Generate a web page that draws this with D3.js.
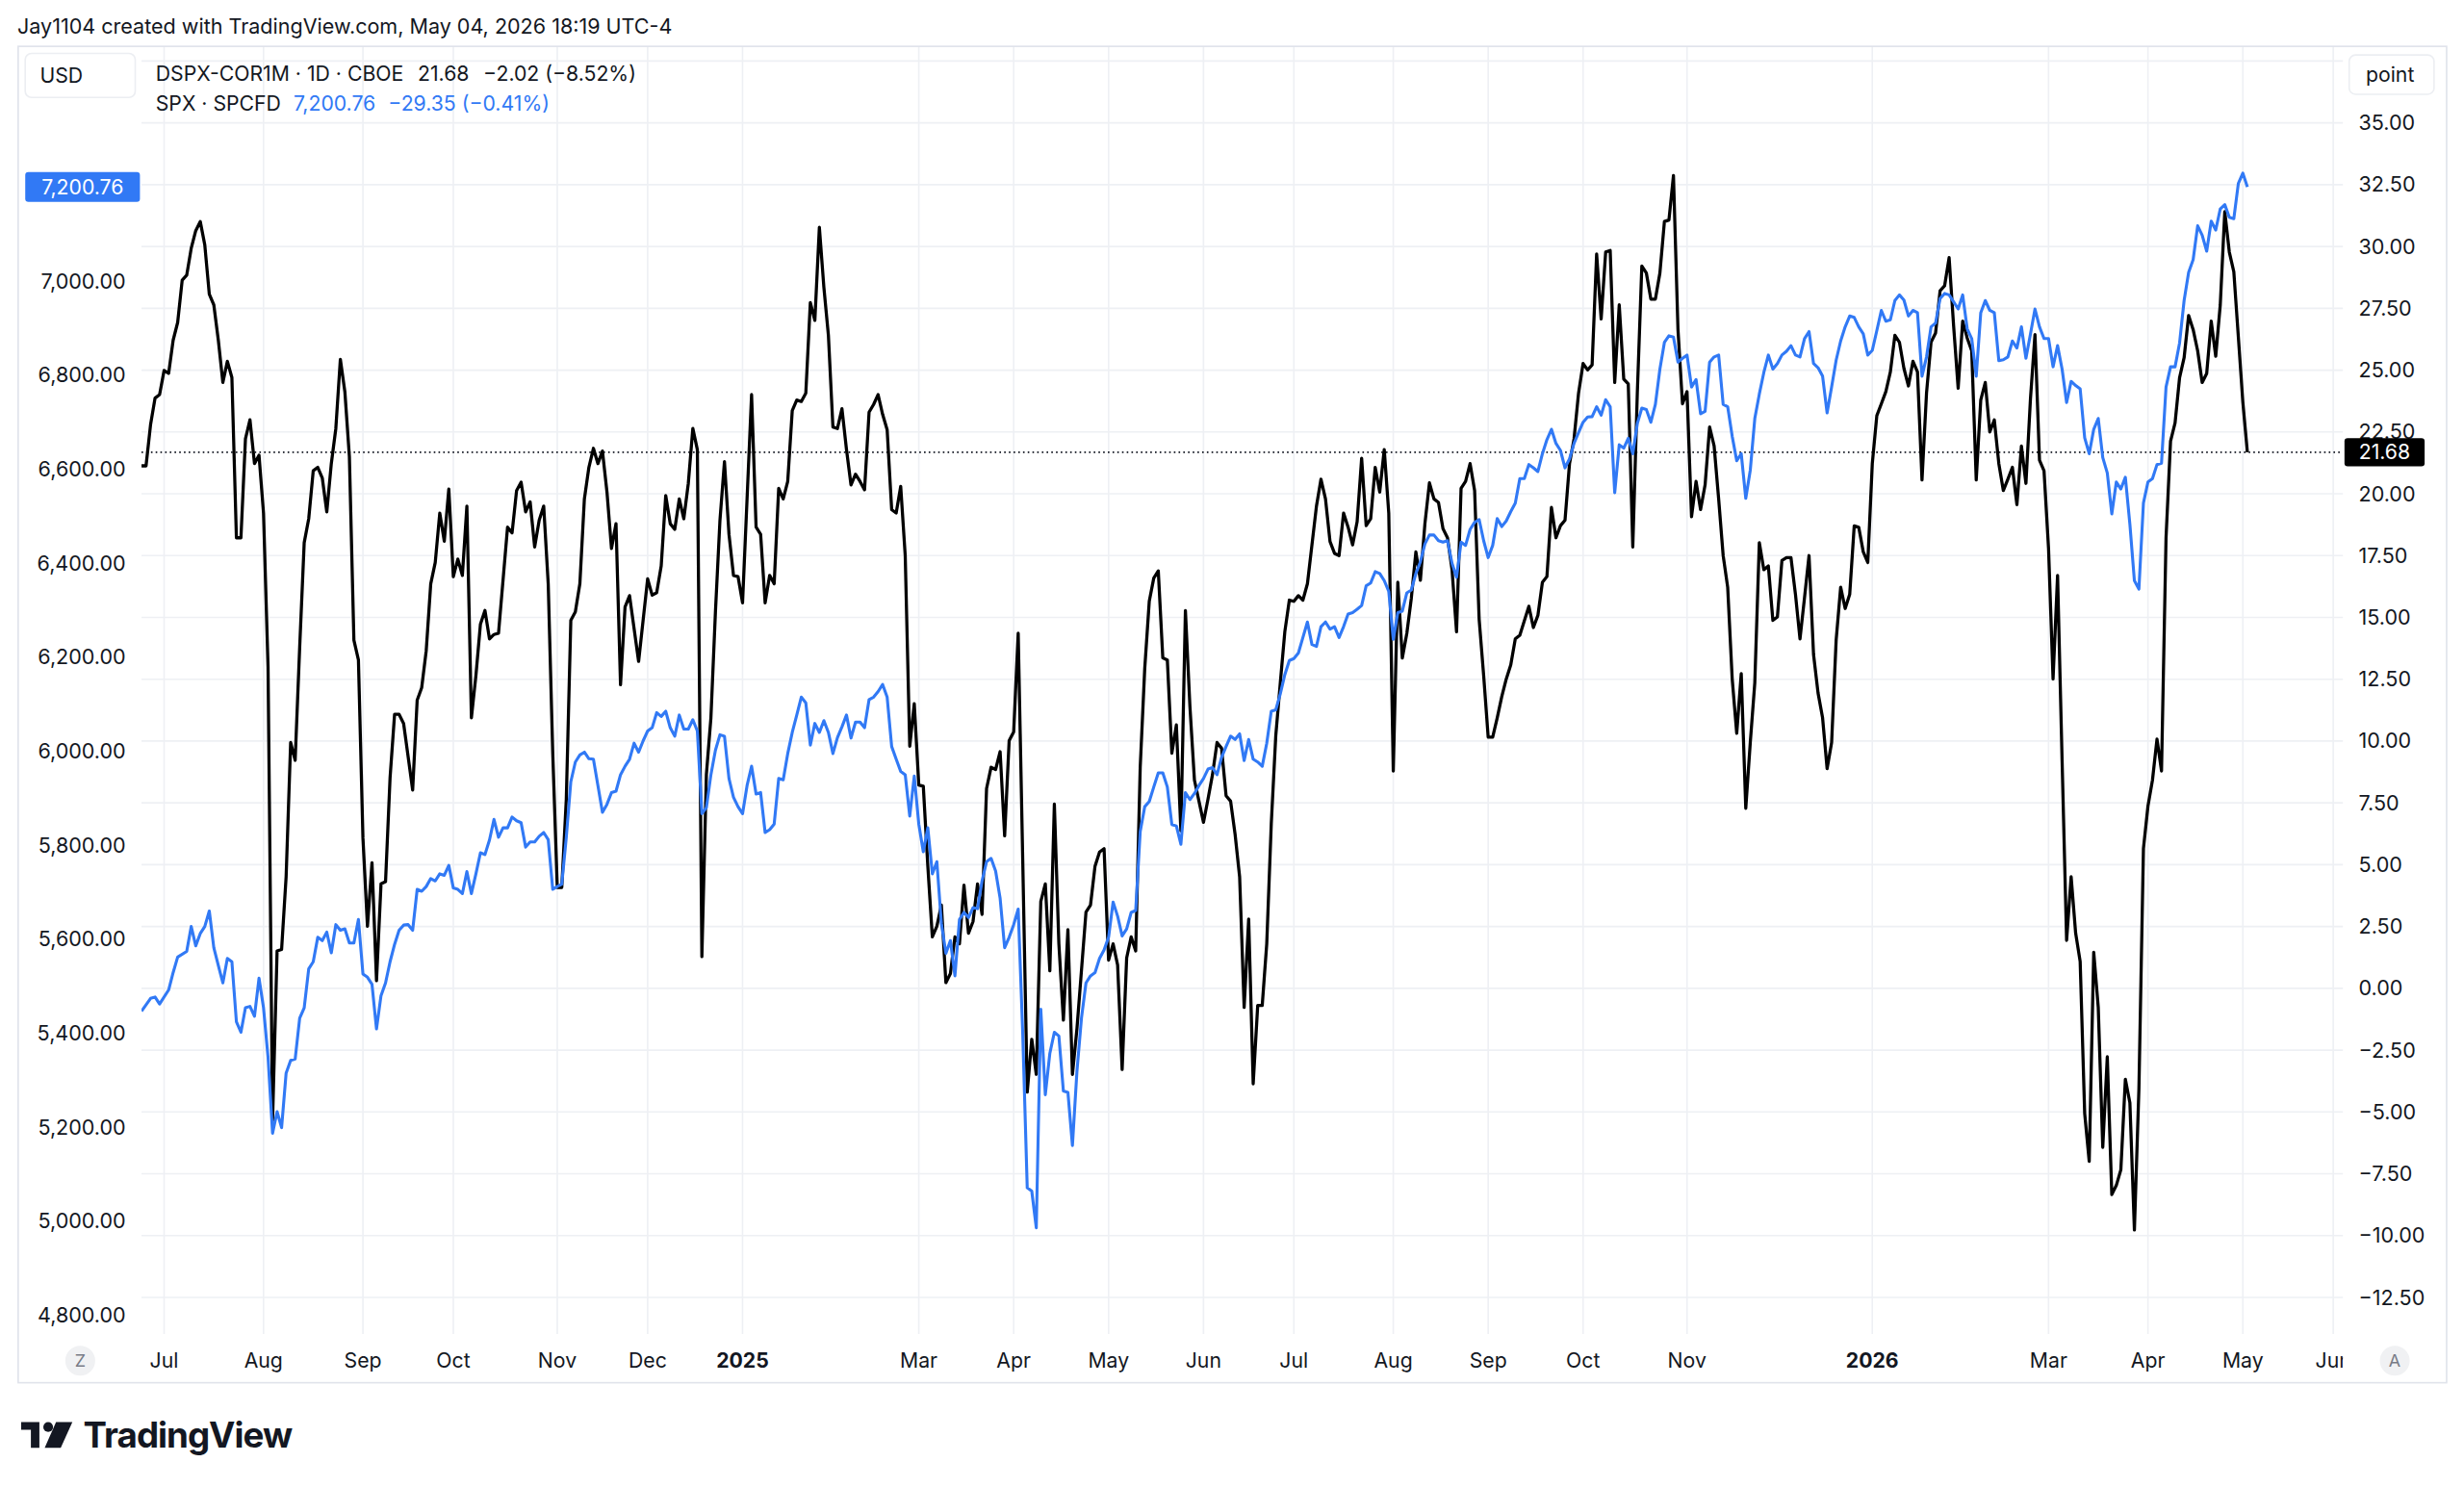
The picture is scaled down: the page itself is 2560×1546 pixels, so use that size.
<!DOCTYPE html>
<meta charset="utf-8">
<script src="https://d3js.org/d3.v7.min.js"></script>
<style>
  body { margin: 0; background: #fff; overflow: hidden; }
  text { font-family: Inter, "Noto Sans", Roboto, sans-serif; fill: #131722; }
</style>
<svg id="chart" width="2560" height="1546" viewBox="0 0 1568 947"></svg>
<script>
// ---- data ----
// x = trading session number counted from the first bar (Mon 24 Jun 2024)
const firstSession = "2024-06-24";
const lastSession = "2026-06-30";
const holidays = ["2024-07-04","2024-09-02","2024-11-28","2024-12-25","2025-01-01","2025-01-09",
  "2025-01-20","2025-02-17","2025-04-18","2025-05-26","2025-06-19","2025-07-04","2025-09-01",
  "2025-11-27","2025-12-25","2026-01-01","2026-01-19","2026-02-16","2026-04-03","2026-05-25","2026-06-19"];

// month labels shown on the time axis
const tickMonths = ["2024-07","2024-08","2024-09","2024-10","2024-11","2024-12","2025-01","2025-03",
  "2025-04","2025-05","2025-06","2025-07","2025-08","2025-09","2025-10","2025-11","2026-01","2026-03",
  "2026-04","2026-05","2026-06"];

const leftTicks = [4800, 5000, 5200, 5400, 5600, 5800, 6000, 6200, 6400, 6600, 6800, 7000];
const rightTicks = [35, 32.5, 30, 27.5, 25, 22.5, 20, 17.5, 15, 12.5, 10, 7.5, 5, 2.5, 0, -2.5, -5, -7.5, -10, -12.5];
const gridTicks = [37.5].concat(rightTicks);

// DSPX-COR1M (right scale, points)
const dspx = [
  [0,21.13],[1,21.13],[2,22.79],[3,23.87],[4,24.01],[5,24.99],[6,24.87],[7,26.21],[8,26.93],[9,28.64],
  [10,28.84],[11,29.93],[12,30.64],[13,31.01],[14,30.07],[15,28.07],[16,27.64],[17,26.21],[18,24.5],[19,25.36],
  [20,24.7],[21,18.22],[22,18.22],[23,22.22],[24,22.99],[25,21.22],[26,21.56],[27,19.22],[28,13.0],[29,-5.35],
  [30,1.51],[31,1.57],[32,4.51],[33,9.94],[34,9.22],[35,13.79],[36,18.02],[37,18.99],[38,20.93],[39,21.07],
  [40,20.64],[41,19.27],[42,21.22],[43,22.64],[44,25.44],[45,24.13],[46,21.5],[47,14.08],[48,13.28],[49,6.08],
  [50,2.51],[51,5.08],[52,0.31],[53,4.23],[54,4.31],[55,8.51],[56,11.08],[57,11.08],[58,10.71],[60,8.02],
  [61,11.65],[62,12.16],[63,13.65],[64,16.36],[65,17.22],[66,19.22],[67,18.08],[68,20.19],[69,16.65],[70,17.36],
  [71,16.7],[72,19.5],[73,10.94],[74,12.65],[75,14.73],[76,15.28],[77,14.13],[78,14.31],[79,14.36],[81,18.65],
  [82,18.42],[83,20.13],[84,20.47],[85,19.27],[86,19.67],[87,17.85],[88,18.93],[89,19.5],[90,16.36],[91,9.51],
  [92,4.08],[93,4.08],[94,7.65],[95,14.88],[96,15.22],[97,16.36],[98,19.79],[99,21.07],[100,21.84],[101,21.22],
  [102,21.73],[103,20.07],[104,17.79],[105,18.79],[106,12.28],[107,15.42],[108,15.88],[110,13.22],[112,16.56],[113,15.9],
  [114,16.0],[115,17.08],[116,19.93],[117,18.79],[118,18.56],[119,19.79],[120,18.99],[121,20.42],[122,22.64],[123,21.79],
  [124,1.28],[125,8.65],[126,10.94],[127,15.22],[128,18.93],[129,21.3],[130,18.36],[131,16.7],[132,16.65],[133,15.59],
  [134,19.79],[135,24.01],[136,18.65],[137,18.36],[138,15.59],[139,16.7],[140,16.36],[141,20.22],[142,19.79],[143,20.5],
  [144,23.36],[145,23.79],[146,23.73],[147,24.07],[148,27.73],[149,27.01],[150,30.78],[151,28.35],[152,26.41],[153,22.7],
  [154,22.64],[155,23.44],[156,21.79],[157,20.36],[158,20.79],[159,20.5],[160,20.16],[161,23.3],[162,23.61],[163,24.01],
  [164,23.21],[165,22.59],[166,19.36],[167,19.22],[168,20.3],[169,17.5],[170,9.79],[171,11.51],[172,8.22],[173,8.17],
  [174,4.94],[175,2.08],[176,2.51],[177,3.37],[178,0.23],[179,0.6],[180,2.08],[181,1.8],[182,4.17],[183,2.23],
  [184,2.7],[185,4.22],[186,2.99],[187,8.08],[188,8.94],[189,8.85],[190,9.57],[191,6.17],[192,10.02],[193,10.37],
  [194,14.36],[195,5.22],[196,-4.2],[197,-2.06],[198,-3.48],[199,3.51],[200,4.22],[201,0.71],[202,7.45],[203,1.8],
  [204,-1.29],[205,2.37],[206,-3.48],[207,-1.63],[209,3.08],[210,3.37],[211,4.94],[212,5.51],[213,5.65],[214,1.14],
  [215,1.8],[216,0.94],[217,-3.28],[218,1.23],[219,2.08],[220,1.51],[221,8.94],[222,12.93],[223,15.65],[224,16.59],
  [225,16.88],[226,13.36],[227,13.28],[228,9.51],[229,10.65],[230,6.37],[231,15.28],[232,11.4],[233,8.42],[234,7.57],
  [235,6.71],[236,7.65],[237,8.65],[238,9.94],[239,9.71],[240,7.79],[241,7.57],[242,6.22],[243,4.51],[244,-0.77],
  [245,2.8],[246,-3.86],[247,-0.69],[248,-0.69],[249,1.8],[250,6.65],[251,10.22],[252,12.36],[253,14.42],[254,15.7],
  [255,15.65],[256,15.88],[257,15.7],[258,16.36],[260,19.5],[261,20.59],[262,19.79],[263,18.07],[264,17.59],[265,17.5],
  [266,19.22],[267,18.65],[268,17.93],[269,18.87],[270,21.44],[271,18.71],[272,18.99],[273,21.07],[274,20.07],[275,21.79],
  [276,19.22],[277,8.79],[278,16.42],[279,13.36],[280,14.36],[281,15.79],[282,17.65],[283,16.5],[284,18.79],[285,20.44],
  [286,19.79],[287,19.65],[288,18.59],[289,18.22],[290,16.93],[291,14.42],[292,20.22],[293,20.5],[294,21.22],[295,20.13],
  [296,14.93],[297,12.65],[298,10.16],[299,10.16],[300,10.94],[301,11.79],[302,12.51],[303,13.08],[304,14.13],[305,14.28],
  [307,15.45],[308,14.59],[309,15.08],[310,16.42],[311,16.65],[312,19.45],[313,18.22],[314,18.71],[315,18.93],[316,21.22],
  [317,22.22],[318,24.07],[319,25.27],[320,25.01],[321,25.21],[322,29.7],[323,27.07],[324,29.78],[325,29.84],[326,24.5],
  [327,27.64],[328,24.64],[329,24.44],[330,17.85],[331,24.07],[332,29.21],[333,28.93],[334,27.87],[335,27.87],[336,28.93],
  [337,31.01],[338,31.07],[339,32.87],[340,26.64],[341,23.64],[342,24.13],[343,19.07],[344,20.5],[345,19.36],[346,20.36],
  [347,22.7],[348,21.93],[349,19.79],[350,17.5],[351,16.22],[352,12.51],[353,10.31],[354,12.73],[355,7.28],[356,9.94],
  [357,12.36],[358,18.02],[359,16.93],[360,17.08],[361,14.88],[362,15.02],[363,17.3],[364,17.42],[365,17.42],[366,15.93],
  [367,14.13],[368,15.79],[369,17.5],[370,13.5],[371,11.94],[372,10.94],[373,8.88],[374,9.94],[375,14.08],[376,16.22],
  [377,15.36],[378,15.93],[379,18.7],[380,18.65],[381,17.65],[382,17.22],[383,21.22],[384,23.16],[385,23.64],[386,24.13],
  [387,24.93],[388,26.41],[389,26.13],[390,25.07],[391,24.36],[392,25.36],[393,24.93],[394,20.56],[395,24.07],[396,26.13],
  [397,26.5],[398,28.21],[399,28.41],[400,29.55],[401,26.78],[402,24.27],[403,26.98],[404,26.3],[405,25.78],[406,20.56],
  [407,23.79],[408,24.5],[409,22.5],[410,22.99],[411,21.22],[412,20.13],[413,20.59],[414,21.07],[415,19.56],[416,21.93],
  [417,20.42],[418,23.84],[419,26.44],[420,21.36],[421,20.93],[422,17.79],[423,12.51],[424,16.7],[425,9.22],[426,1.94],
  [427,4.51],[428,2.23],[429,1.08],[430,-5.06],[431,-7.0],[432,1.46],[433,-0.77],[434,-6.43],[435,-2.77],[436,-8.34],
  [437,-7.97],[438,-7.34],[439,-3.68],[440,-4.63],[441,-9.77],[442,-4.06],[443,5.65],[444,7.37],[445,8.42],[446,10.08],
  [447,8.79],[448,18.22],[449,22.13],[450,22.87],[451,24.7],[452,25.5],[453,27.21],[454,26.64],[455,25.78],[456,24.5],
  [457,24.87],[458,26.98],[459,25.56],[460,27.64],[461,31.41],[462,29.78],[463,28.98],[464,26.35],[465,23.70],[466,21.68]
];

// SPX (left scale, USD)
const spx = [
  [0,5447],[2,5474],[3,5477],[4,5462],[6,5492],[7,5529],[8,5562],[10,5574],[11,5627],[12,5586],
  [13,5612],[14,5627],[15,5660],[16,5582],[17,5544],[18,5507],[19,5559],[20,5552],[21,5424],[22,5402],
  [23,5454],[24,5457],[25,5436],[26,5517],[27,5454],[28,5349],[29,5187],[30,5233],[31,5199],[32,5315],
  [33,5342],[34,5345],[35,5432],[36,5454],[37,5537],[38,5552],[39,5604],[40,5597],[41,5615],[42,5571],
  [43,5631],[44,5619],[45,5622],[46,5592],[47,5592],[48,5642],[49,5526],[50,5519],[51,5504],[52,5409],
  [53,5480],[54,5507],[55,5552],[56,5589],[57,5619],[58,5630],[59,5631],[60,5619],[61,5706],[62,5702],
  [63,5712],[64,5729],[65,5724],[66,5739],[67,5736],[68,5757],[69,5709],[70,5706],[71,5697],[72,5744],
  [73,5697],[74,5739],[75,5784],[76,5780],[77,5811],[78,5855],[79,5817],[80,5837],[81,5837],[82,5860],
  [83,5852],[84,5848],[85,5796],[86,5807],[87,5807],[88,5819],[89,5827],[90,5812],[91,5706],[92,5712],
  [93,5717],[94,5817],[95,5935],[96,5977],[97,5992],[98,5998],[99,5984],[100,5983],[101,5927],[102,5870],
  [103,5887],[104,5912],[105,5915],[106,5950],[107,5968],[108,5983],[109,6017],[110,5998],[111,6022],[112,6043],
  [113,6050],[114,6082],[115,6074],[116,6085],[117,6050],[118,6032],[119,6077],[120,6047],[121,6047],[122,6067],
  [123,6043],[124,5867],[125,5880],[126,5950],[127,6002],[128,6035],[129,6032],[130,5942],[131,5902],[132,5882],
  [133,5867],[134,5927],[135,5968],[136,5909],[137,5912],[138,5827],[139,5833],[140,5845],[141,5942],[142,5939],
  [143,5995],[144,6040],[145,6077],[146,6115],[147,6103],[148,6013],[149,6059],[150,6040],[151,6065],[152,6040],
  [153,5995],[154,6029],[155,6052],[156,6077],[157,6028],[158,6062],[159,6062],[160,6050],[161,6110],[162,6115],
  [163,6127],[164,6142],[165,6115],[166,6010],[167,5983],[168,5957],[169,5950],[170,5862],[171,5947],[172,5845],
  [173,5786],[174,5837],[175,5739],[176,5765],[177,5634],[178,5570],[179,5597],[180,5522],[181,5642],[182,5657],
  [183,5646],[184,5667],[185,5665],[186,5724],[187,5765],[188,5772],[189,5745],[190,5687],[191,5582],[192,5604],
  [193,5631],[194,5664],[195,5400],[196,5071],[197,5064],[198,4986],[199,5451],[200,5269],[201,5357],[202,5402],
  [203,5394],[204,5277],[205,5274],[206,5161],[207,5319],[208,5432],[209,5507],[210,5522],[211,5529],[212,5559],
  [213,5577],[214,5604],[215,5679],[216,5649],[217,5607],[218,5622],[219,5657],[220,5661],[221,5829],[222,5882],
  [223,5893],[224,5924],[225,5954],[226,5954],[227,5924],[228,5844],[229,5841],[230,5802],[231,5912],[232,5897],
  [233,5910],[234,5927],[235,5942],[236,5962],[237,5965],[238,5950],[239,5987],[240,6010],[241,6032],[242,6025],
  [243,6037],[244,5980],[245,6025],[246,5983],[247,5977],[248,5968],[249,6017],[250,6085],[251,6088],[252,6122],
  [253,6163],[254,6193],[255,6197],[256,6209],[257,6242],[258,6275],[259,6227],[260,6223],[261,6265],[262,6275],
  [263,6260],[264,6265],[265,6242],[266,6265],[267,6292],[268,6295],[269,6302],[270,6310],[271,6352],[272,6358],
  [273,6382],[274,6378],[275,6363],[276,6340],[277,6238],[278,6295],[279,6298],[280,6337],[281,6343],[282,6378],
  [283,6403],[284,6441],[285,6460],[286,6460],[287,6448],[288,6445],[289,6448],[290,6400],[291,6370],[292,6445],
  [293,6438],[294,6472],[295,6487],[296,6493],[297,6448],[298,6412],[299,6438],[300,6495],[301,6478],[302,6490],
  [303,6510],[304,6528],[305,6580],[306,6580],[307,6610],[308,6603],[309,6595],[310,6633],[311,6663],[312,6685],
  [313,6655],[314,6640],[315,6603],[316,6622],[317,6655],[318,6678],[319,6700],[320,6711],[321,6712],[322,6733],
  [323,6715],[324,6748],[325,6733],[326,6550],[327,6652],[328,6645],[329,6666],[330,6633],[331,6697],[332,6730],
  [333,6727],[334,6700],[335,6738],[336,6813],[337,6870],[338,6884],[339,6881],[340,6828],[341,6836],[342,6843],
  [343,6775],[344,6791],[345,6718],[346,6723],[347,6828],[348,6839],[349,6843],[350,6738],[351,6733],[352,6670],
  [353,6618],[354,6633],[355,6538],[356,6598],[357,6708],[358,6760],[359,6806],[360,6843],[361,6813],[362,6825],
  [363,6843],[364,6851],[365,6863],[366,6843],[367,6839],[368,6878],[369,6893],[370,6825],[371,6816],[372,6798],
  [373,6720],[374,6775],[375,6832],[376,6873],[377,6903],[378,6926],[379,6923],[380,6903],[381,6888],[382,6843],
  [383,6853],[384,6895],[385,6938],[386,6915],[387,6918],[388,6959],[389,6971],[390,6960],[391,6926],[392,6938],
  [393,6933],[394,6798],[395,6839],[396,6903],[397,6911],[398,6963],[399,6974],[400,6971],[401,6956],[402,6941],
  [403,6971],[404,6899],[405,6878],[406,6798],[407,6933],[408,6959],[409,6938],[410,6933],[411,6831],[412,6833],
  [413,6839],[414,6873],[415,6858],[416,6903],[417,6836],[418,6888],[419,6941],[420,6903],[421,6878],[422,6878],
  [423,6818],[424,6863],[425,6813],[426,6742],[427,6787],[428,6778],[429,6771],[430,6667],[431,6633],[432,6685],
  [433,6708],[434,6625],[435,6592],[436,6505],[437,6573],[438,6558],[439,6583],[440,6483],[441,6363],[442,6345],
  [443,6528],[444,6573],[445,6580],[446,6610],[447,6613],[448,6775],[449,6818],[450,6818],[451,6869],[452,6959],
  [453,7019],[454,7046],[455,7118],[456,7098],[457,7064],[458,7128],[459,7109],[460,7154],[461,7163],[462,7136],
  [463,7133],[464,7208],[465,7230.11],[466,7200.76]
];

// ---- layout (in a 1568 x 947 view box, scaled to the window) ----
const svg = d3.select("#chart");
const pane = { left: 90, right: 1491, top: 30, bottom: 849 };
const blue = "#3179f5";
const grid = "#eef0f4";
const border = "#e0e3eb";

// trading-session calendar
const fmtDay = d3.timeFormat("%Y-%m-%d");
const fmtMonth = d3.timeFormat("%Y-%m");
const parseDay = d3.timeParse("%Y-%m-%d");
const holidaySet = new Set(holidays);
const sessions = d3.timeDay.range(parseDay(firstSession), d3.timeDay.offset(parseDay(lastSession), 1))
  .filter(d => d.getDay() % 6 !== 0 && !holidaySet.has(fmtDay(d)));

const monthTicks = [];
sessions.forEach((d, i) => {
  const key = fmtMonth(d);
  if (i > 0 && key !== fmtMonth(sessions[i - 1]) && tickMonths.includes(key)) monthTicks.push({ i, d });
});

// scales
const x = d3.scaleLinear().domain([0, 466]).range([90, 1430.2]);
const yR = d3.scaleLinear().domain([-12.5, 35]).range([825.7, 78.2]);
const yL = d3.scaleLinear().domain([4800, 7000]).range([837, 179]);

svg.append("defs").append("clipPath").attr("id", "paneClip")
  .append("rect").attr("x", pane.left).attr("y", pane.top)
  .attr("width", pane.right - pane.left).attr("height", pane.bottom - pane.top);
svg.select("defs").append("clipPath").attr("id", "timeClip")
  .append("rect").attr("x", 11).attr("y", pane.bottom).attr("width", pane.right - 11).attr("height", 31);

// header
svg.append("text").attr("x", 11).attr("y", 21.5).attr("font-size", 13.2)
  .text("Jay1104 created with TradingView.com, May 04, 2026 18:19 UTC-4");

// frame
svg.append("rect").attr("x", 11.5).attr("y", 29.5).attr("width", 1545.5).attr("height", 850.5)
  .attr("fill", "none").attr("stroke", border);

// grid
svg.append("g").selectAll("line").data(gridTicks).join("line")
  .attr("x1", pane.left).attr("x2", pane.right)
  .attr("y1", d => yR(d)).attr("y2", d => yR(d))
  .attr("stroke", grid);
svg.append("g").selectAll("line").data(monthTicks).join("line")
  .attr("x1", d => x(d.i)).attr("x2", d => x(d.i))
  .attr("y1", pane.top).attr("y2", pane.bottom)
  .attr("stroke", grid);

// left scale (SPX)
const fmtLeft = d3.format(",.2f");
svg.append("g").selectAll("text").data(leftTicks).join("text")
  .attr("x", 80).attr("y", d => yL(d)).attr("dy", "0.35em")
  .attr("text-anchor", "end").attr("font-size", 13.2).text(d => fmtLeft(d));

// right scale (points)
const fmtRight = d3.format(".2f");
svg.append("g").selectAll("text").data(rightTicks).join("text")
  .attr("x", 1501).attr("y", d => yR(d)).attr("dy", "0.35em")
  .attr("font-size", 13.2).text(d => fmtRight(d));

// time scale
svg.append("g").attr("clip-path", "url(#timeClip)")
  .selectAll("text").data(monthTicks).join("text")
  .attr("x", d => x(d.i)).attr("y", 866).attr("dy", "0.35em")
  .attr("text-anchor", "middle").attr("font-size", 13)
  .attr("font-weight", d => d.d.getMonth() === 0 ? 700 : 400)
  .text(d => d.d.getMonth() === 0 ? d3.timeFormat("%Y")(d.d) : d3.timeFormat("%b")(d.d));

[[51, "Z"], [1524, "A"]].forEach(([cx, t]) => {
  svg.append("circle").attr("cx", cx).attr("cy", 866).attr("r", 9.5).attr("fill", "#f0f1f3");
  svg.append("text").attr("x", cx).attr("y", 866).attr("dy", "0.35em").attr("text-anchor", "middle")
    .attr("font-size", 11).style("fill", "#787b86").text(t);
});

// last-value dotted line
const lastCorr = dspx[dspx.length - 1][1];
svg.append("line").attr("x1", pane.left).attr("x2", pane.right)
  .attr("y1", yR(lastCorr)).attr("y2", yR(lastCorr))
  .attr("stroke", "#131722").attr("stroke-width", 1).attr("stroke-dasharray", "1,2");

// series
const plot = svg.append("g").attr("clip-path", "url(#paneClip)");
plot.append("path").datum(dspx)
  .attr("d", d3.line().x(d => x(d[0])).y(d => yR(d[1])))
  .attr("fill", "none").attr("stroke", "#000").attr("stroke-width", 2).attr("stroke-linejoin", "round");
plot.append("path").datum(spx)
  .attr("d", d3.line().x(d => x(d[0])).y(d => yL(d[1])))
  .attr("fill", "none").attr("stroke", blue).attr("stroke-width", 1.9).attr("stroke-linejoin", "round");

// scale badges
const lastSpx = spx[spx.length - 1][1];
svg.append("rect").attr("x", 16).attr("y", yL(lastSpx) - 9.5).attr("width", 73).attr("height", 19)
  .attr("rx", 2).attr("fill", blue);
svg.append("text").attr("x", 52.5).attr("y", yL(lastSpx)).attr("dy", "0.35em").attr("text-anchor", "middle")
  .attr("font-size", 13).style("fill", "#fff").text(fmtLeft(lastSpx));

svg.append("rect").attr("x", 1492).attr("y", yR(lastCorr) - 9).attr("width", 51).attr("height", 18)
  .attr("rx", 2).attr("fill", "#000");
svg.append("text").attr("x", 1517.5).attr("y", yR(lastCorr)).attr("dy", "0.35em").attr("text-anchor", "middle")
  .attr("font-size", 13).style("fill", "#fff").text(fmtRight(lastCorr));

// unit boxes
svg.append("rect").attr("x", 16).attr("y", 34).attr("width", 70).attr("height", 28).attr("rx", 4)
  .attr("fill", "#fff").attr("stroke", "#eceef2");
svg.append("text").attr("x", 39).attr("y", 48).attr("dy", "0.35em").attr("text-anchor", "middle")
  .attr("font-size", 13).text("USD");
svg.append("rect").attr("x", 1495).attr("y", 35).attr("width", 54).attr("height", 25).attr("rx", 4)
  .attr("fill", "#fff").attr("stroke", "#eceef2");
svg.append("text").attr("x", 1521).attr("y", 47.5).attr("dy", "0.35em").attr("text-anchor", "middle")
  .attr("font-size", 13).text("point");

// legend
const fmtChg = d3.format(".2f"), fmtPct = d3.format(".2%");
const prevCorr = dspx[dspx.length - 2][1], prevSpx = spx[spx.length - 2][1];
const leg1 = svg.append("text").attr("x", 99).attr("y", 51.5).attr("font-size", 13);
leg1.append("tspan").text("DSPX-COR1M · 1D · CBOE");
leg1.append("tspan").attr("dx", 9).text(fmtRight(lastCorr));
leg1.append("tspan").attr("dx", 9)
  .text(`${fmtChg(lastCorr - prevCorr)} (${fmtPct((lastCorr - prevCorr) / prevCorr)})`);
const leg2 = svg.append("text").attr("x", 99).attr("y", 70.5).attr("font-size", 13);
leg2.append("tspan").text("SPX · SPCFD");
leg2.append("tspan").attr("dx", 8).style("fill", blue).text(fmtLeft(lastSpx));
leg2.append("tspan").attr("dx", 8).style("fill", blue)
  .text(`${fmtChg(lastSpx - prevSpx)} (${fmtPct((lastSpx - prevSpx) / prevSpx)})`);

// TradingView logo
const logo = svg.append("g").attr("fill", "#131722");
logo.append("path").attr("d", "M13.4,905 H25 V921.5 H19.6 V910 H13.4 Z");
logo.append("circle").attr("cx", 30.6).attr("cy", 908.2).attr("r", 3.1);
logo.append("path").attr("d", "M35.6,905 H46 L38.6,921.5 H28.4 Z");
svg.append("text").attr("x", 53).attr("y", 921.5).attr("font-size", 22.5).attr("font-weight", 700)
  .attr("letter-spacing", -0.6).text("TradingView");
</script>
